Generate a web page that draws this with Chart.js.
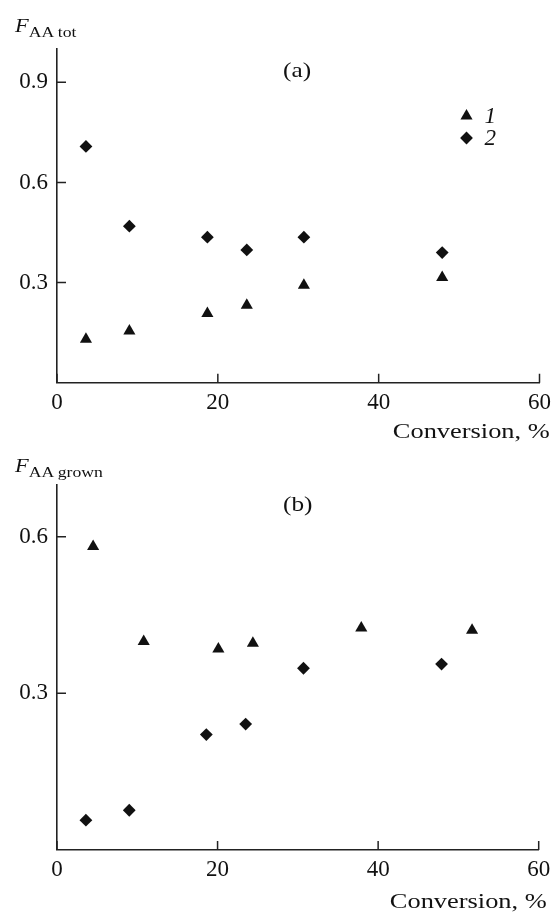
<!DOCTYPE html>
<html>
<head>
<meta charset="utf-8">
<script src="https://cdn.jsdelivr.net/npm/chart.js@4.4.0/dist/chart.umd.min.js"></script>
<style>
    body { margin: 0; background: #fff; }
    #pagina { position: relative; width: 557px; height: 914px; font-family: "Liberation Serif", "Times New Roman", serif; color: #111; overflow: hidden; }
    .caixa { position: absolute; left: 0; width: 557px; }
    .txt { position: absolute; white-space: nowrap; line-height: 1; }
    .eixo_y { transform: scaleX(1.18); transform-origin: left top; }
    .eixo_y i { font-size: 19px; }
    .eixo_y span { font-size: 15px; position: relative; top: 5px; }
    .conv { font-size: 22px; transform: scaleX(1.2); transform-origin: right top; }
    .painel { font-size: 22px; transform: scaleX(1.15); transform-origin: left top; }
</style>
</head>
<body>
<div id="pagina">
    <div class="caixa" style="top:0; height:450px;"><canvas id="gfc_a"></canvas></div>
    <div class="caixa" style="top:450px; height:464px;"><canvas id="gfc_b"></canvas></div>

    <div class="txt eixo_y" style="left:15px; top:16px;"><i>F</i><span>AA tot</span></div>
    <div class="txt painel" style="left:283px; top:59px;">(a)</div>
    <div class="txt conv" style="right:7px; top:420px;">Conversion, %</div>

    <div class="txt eixo_y" style="left:15px; top:456px;"><i>F</i><span>AA grown</span></div>
    <div class="txt painel" style="left:283px; top:493px;">(b)</div>
    <div class="txt conv" style="right:10px; top:890px;">Conversion, %</div>
</div>
<script>
// DADOS DO PAINEL (a)
var conversao_a1 = [3.6, 9.0, 18.7, 23.6, 30.7, 47.9];
var f_tot_1 = [0.130, 0.155, 0.207, 0.232, 0.292, 0.315];
var conversao_a2 = [3.6, 9.0, 18.7, 23.6, 30.7, 47.9];
var f_tot_2 = [0.708, 0.469, 0.436, 0.398, 0.436, 0.390];
// DADOS DO PAINEL (b)
var conversao_b1 = [4.5, 10.8, 20.1, 24.4, 37.9, 51.7];
var f_grown_1 = [0.581, 0.399, 0.385, 0.396, 0.425, 0.421];
var conversao_b2 = [3.6, 9.0, 18.6, 23.5, 30.7, 47.9];
var f_grown_2 = [0.057, 0.076, 0.221, 0.241, 0.348, 0.356];
// MARCAS DOS EIXOS
var ticks_x = [0, 20, 40, 60];
var ticks_y_a = [0.3, 0.6, 0.9];
var ticks_y_b = [0.3, 0.6];
var nomes_series = ['1', '2'];

var cor = '#111';
var fonte = 'Liberation Serif';

function pares(xs, ys) {
    return xs.map(function (x, i) { return { x: x, y: ys[i] }; });
}

// tracinhos para dentro da area do grafico
var tracinhos = {
    id: 'tracinhos',
    afterDraw: function (chart) {
        var ctx = chart.ctx, a = chart.chartArea;
        var sx = chart.scales.x, sy = chart.scales.y;
        ctx.save();
        ctx.strokeStyle = '#222';
        ctx.lineWidth = 1.5;
        ctx.beginPath();
        sx.ticks.forEach(function (t) {
            var px = sx.getPixelForValue(t.value);
            ctx.moveTo(px, a.bottom);
            ctx.lineTo(px, a.bottom - 9);
        });
        sy.ticks.forEach(function (t) {
            var py = sy.getPixelForValue(t.value);
            ctx.moveTo(a.left, py);
            ctx.lineTo(a.left + 9, py);
        });
        ctx.stroke();
        ctx.restore();
    }
};

// legenda dentro do grafico (a)
var legenda = {
    id: 'legenda',
    afterDraw: function (chart, args, opts) {
        if (!opts.mostrar) return;
        var ctx = chart.ctx, a = chart.chartArea;
        var estilos = ['triangle', 'rectRot'];
        ctx.save();
        ctx.fillStyle = cor;
        ctx.strokeStyle = cor;
        ctx.font = 'italic 23px "' + fonte + '"';
        ctx.textBaseline = 'middle';
        for (var i = 0; i < 2; i++) {
            var px = a.right - 73, py = a.top + 67 + i * 22;
            Chart.helpers.drawPoint(ctx, { pointStyle: estilos[i], radius: i == 0 ? 7 : 6.4, rotation: 0, borderWidth: 0 }, px, py);
            ctx.fillText(nomes_series[i], px + 18, py + 1);
        }
        ctx.restore();
    }
};

function grafico(id, serie1, serie2, ymax, ticks_y, pad_top, pad_right, altura_x, mostrar_legenda) {
    var ctx = document.getElementById(id).getContext('2d');
    return new Chart(ctx, {
        type: 'scatter',
        data: {
            datasets: [
                {
                    label: nomes_series[0],
                    data: serie1,
                    pointStyle: 'triangle',
                    pointRadius: 7,
                    pointHoverRadius: 7,
                    backgroundColor: cor,
                    borderColor: cor,
                    borderWidth: 0
                },
                {
                    label: nomes_series[1],
                    data: serie2,
                    pointStyle: 'rectRot',
                    pointRadius: 6.4,
                    pointHoverRadius: 6.4,
                    backgroundColor: cor,
                    borderColor: cor,
                    borderWidth: 0
                }
            ]
        },
        options: {
            responsive: true,
            maintainAspectRatio: false,
            animation: false,
            layout: { padding: { top: pad_top, right: pad_right, left: 0, bottom: 0 } },
            plugins: {
                legend: { display: false },
                tooltip: { enabled: false },
                legenda: { mostrar: mostrar_legenda }
            },
            scales: {
                x: {
                    type: 'linear',
                    min: 0,
                    max: 60,
                    afterBuildTicks: function (s) { s.ticks = ticks_x.map(function (v) { return { value: v }; }); },
                    afterFit: function (s) { s.height = altura_x; },
                    grid: { drawOnChartArea: false, drawTicks: false },
                    border: { color: '#222', width: 1.6 },
                    ticks: { font: { family: fonte, size: 23 }, color: '#111', padding: 6, maxRotation: 0 }
                },
                y: {
                    type: 'linear',
                    min: 0,
                    max: ymax,
                    afterBuildTicks: function (s) { s.ticks = ticks_y.map(function (v) { return { value: v }; }); },
                    afterFit: function (s) { s.width = 57; },
                    grid: { drawOnChartArea: false, drawTicks: false },
                    border: { color: '#222', width: 1.6 },
                    ticks: {
                        font: { family: fonte, size: 23 },
                        color: '#111',
                        padding: 9,
                        callback: function (v) { return v.toFixed(1); }
                    }
                }
            }
        },
        plugins: [tracinhos, legenda]
    });
}

grafico('gfc_a', pares(conversao_a1, f_tot_1), pares(conversao_a2, f_tot_2), 1.0, ticks_y_a, 49, 13.5, 67.3, true);
grafico('gfc_b', pares(conversao_b1, f_grown_1), pares(conversao_b2, f_grown_2), 0.7, ticks_y_b, 34.5, 18.3, 64.1, false);
</script>
</body>
</html>
